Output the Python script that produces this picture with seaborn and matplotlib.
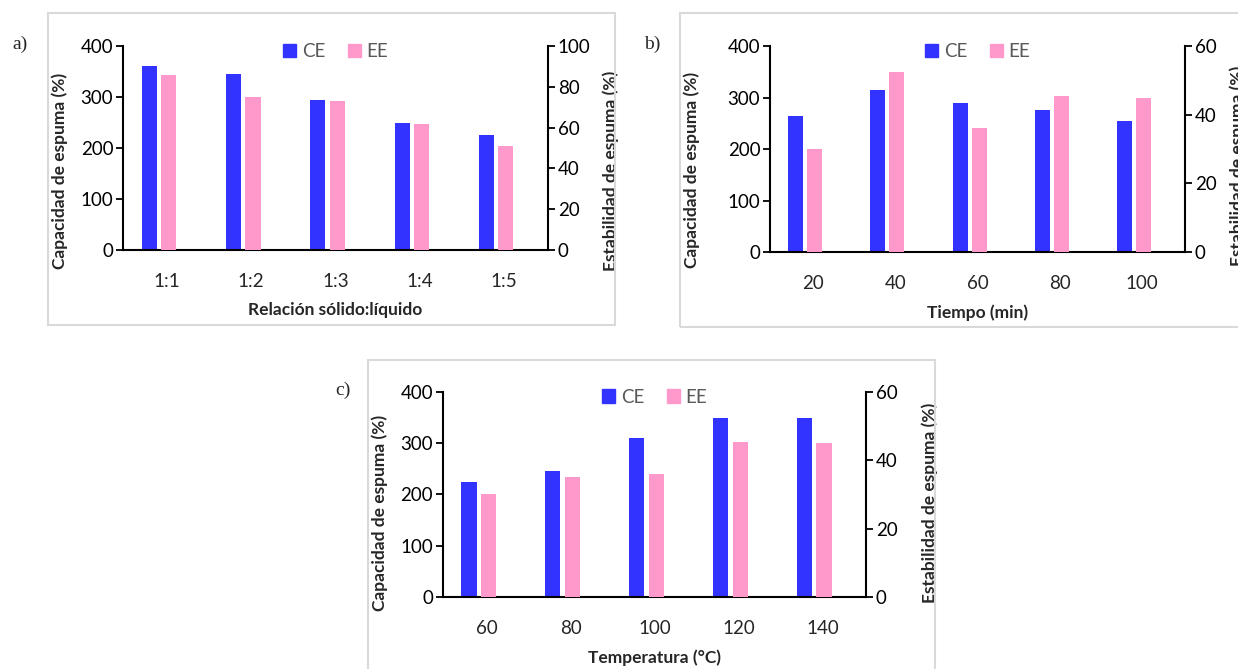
import pandas as pd
import matplotlib.pyplot as plt
import seaborn as sns
from matplotlib.patches import Rectangle, Patch

sns.set_style("white")
plt.rcParams['font.family'] = ['Lato', 'DejaVu Sans']

blue = '#3333FF'
pink = '#FF99CC'

# a) relacion solido:liquido
relacion = ['1:1', '1:2', '1:3', '1:4', '1:5']
ce_relacion = [360, 345, 295, 250, 225]
ee_relacion = [86, 75, 73, 62, 51]

# b) tiempo
tiempo = ['20', '40', '60', '80', '100']
ce_tiempo = [265, 315, 290, 275, 255]
ee_tiempo = [30, 52.5, 36, 45.5, 45]

# c) temperatura
temperatura = ['60', '80', '100', '120', '140']
ce_temp = [225, 245, 310, 350, 350]
ee_temp = [30, 35, 36, 45.5, 45]


def panel(fig, rect, cats, ce, ee, ee_max, ee_step, xlabel, lpos, rpos):
    ax = fig.add_axes(rect)
    ax2 = ax.twinx()
    sns.barplot(x=cats, y=ce, ax=ax, color=blue, width=0.18, saturation=1, linewidth=0)
    sns.barplot(x=cats, y=ee, ax=ax2, color=pink, width=0.18, saturation=1, linewidth=0)
    for p in ax.patches:
        p.set_x(p.get_x() - 0.21)
    for p in ax2.patches:
        p.set_x(p.get_x() + 0.02)
    ax.set_xlim(-0.52, 4.52)
    ax.set_ylim(0, 400)
    ax.set_yticks(range(0, 401, 100))
    ax2.set_ylim(0, ee_max)
    ax2.set_yticks(range(0, ee_max + 1, ee_step))
    for a in (ax, ax2):
        a.grid(False)
        for s in a.spines.values():
            s.set_visible(False)
    ax.spines['left'].set_visible(True)
    ax.spines['bottom'].set_visible(True)
    ax2.spines['right'].set_visible(True)
    for s in (ax.spines['left'], ax.spines['bottom'], ax2.spines['right']):
        s.set_color('black')
        s.set_linewidth(1.5)
    ax.tick_params(axis='y', left=True, direction='out', length=5, width=1.3,
                   labelsize=13.5, pad=2, colors='black')
    ax2.tick_params(axis='y', right=True, direction='out', length=5, width=1.3,
                    labelsize=13.5, pad=2, colors='black')
    ax.tick_params(axis='x', bottom=False, labelsize=13.5, pad=13)
    ax.set_xlabel(xlabel, fontsize=12.5, fontweight='bold', labelpad=9)
    ax.set_ylabel('Capacidad de espuma (%)', fontsize=12.5, fontweight='bold')
    ax2.set_ylabel('Estabilidad de espuma (%)', fontsize=12.5, fontweight='bold')
    ax.yaxis.set_label_coords(*lpos)
    ax2.yaxis.set_label_coords(*rpos)
    handles = [Patch(color=blue, label='CE'), Patch(color=pink, label='EE')]
    ax2.legend(handles=handles, loc='center', bbox_to_anchor=(0.5, 0.975), ncol=2,
               frameon=False, fontsize=13.5, labelcolor='#595959', handlelength=0.7,
               handleheight=0.7, handletextpad=0.3, columnspacing=1.2)
    return ax, ax2


fig = plt.figure(figsize=(12.38, 6.69), dpi=100)

boxes = [(0.0388, 0.5142, 0.458, 0.4664), (0.5493, 0.5112, 0.47, 0.4694),
         (0.2973, -0.02, 0.458, 0.4819)]
for b in boxes:
    fig.add_artist(Rectangle(b[:2], b[2], b[3], transform=fig.transFigure,
                             fill=False, edgecolor='#D9D9D9', linewidth=1.5))

panel(fig, [0.0994, 0.6263, 0.3433, 0.3049], relacion, ce_relacion, ee_relacion,
      100, 20, 'Relación sólido:líquido', (-0.129, 0.39), (1.129, 0.39))
panel(fig, [0.622, 0.6233, 0.3352, 0.3079], tiempo, ce_tiempo, ee_tiempo,
      60, 20, 'Tiempo (min)', (-0.169, 0.40), (1.108, 0.42))
panel(fig, [0.3578, 0.1076, 0.3417, 0.3065], temperatura, ce_temp, ee_temp,
      60, 20, 'Temperatura (°C)', (-0.13, 0.41), (1.132, 0.46))

for lbl, x, y in [('a)', 0.0162, 0.933), ('b)', 0.527, 0.933), ('c)', 0.277, 0.417)]:
    fig.text(x, y, lbl, fontsize=14, family='Liberation Serif', ha='center', va='center')

fig.savefig('out.png', dpi=100)
